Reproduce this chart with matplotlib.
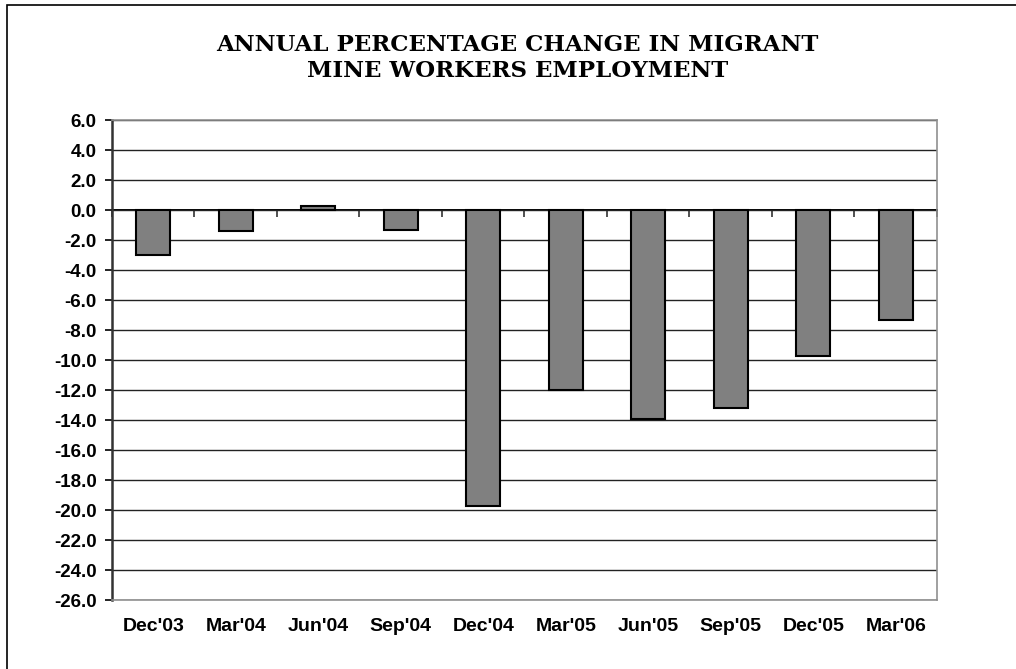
import numpy as np
import matplotlib
matplotlib.use('Agg')
import matplotlib.pyplot as plt
from matplotlib.patches import Rectangle

# data
quarters = ["Dec'03", "Mar'04", "Jun'04", "Sep'04", "Dec'04",
            "Mar'05", "Jun'05", "Sep'05", "Dec'05", "Mar'06"]
pct_change = [-3.0, -1.4, 0.3, -1.3, -19.7, -12.0, -13.9, -13.2, -9.7, -7.3]
y_ticks = np.arange(-26, 7, 2)

fig = plt.figure(figsize=(10.16, 6.69), dpi=100)
ax = fig.add_axes([0.1102, 0.1031, 0.812, 0.7175])

x = np.arange(len(quarters))
ax.bar(x, pct_change, width=0.41, color='#808080', edgecolor='black',
       linewidth=1.5, zorder=3)

ax.set_xlim(-0.5, len(quarters) - 0.5)
ax.set_ylim(-26, 6)
ax.set_yticks(y_ticks)
ax.set_yticklabels(['%.1f' % v for v in y_ticks], fontsize=13.5,
                   fontweight='bold', family='Liberation Sans')
ax.tick_params(axis='y', direction='out', length=5, width=1.2, pad=6)
ax.set_xticks(x)
ax.set_xticklabels(quarters, fontsize=14, fontweight='bold',
                   family='Liberation Sans')
ax.tick_params(axis='x', length=0, pad=13)
ax.yaxis.grid(True, color='#222222', linewidth=1.0, zorder=0)
ax.set_axisbelow(True)

for side in ['top', 'right', 'bottom']:
    ax.spines[side].set_color('#909090')
    ax.spines[side].set_linewidth(1.2)
ax.spines['left'].set_color('#333333')
ax.spines['left'].set_linewidth(1.8)

# category-boundary ticks on the zero line
zero_axis = ax.secondary_xaxis(0, transform=ax.transData)
zero_axis.set_xticks(np.arange(len(quarters) + 1) - 0.5)
zero_axis.tick_params(direction='out', length=5, width=1.2, labelbottom=False,
                      color='#333333')
zero_axis.spines['bottom'].set_color('black')
zero_axis.spines['bottom'].set_linewidth(1.4)
zero_axis.spines['bottom'].set_zorder(4)

fig.text(0.509, 0.913, 'ANNUAL PERCENTAGE CHANGE IN MIGRANT\nMINE WORKERS EMPLOYMENT',
         ha='center', va='center', fontsize=16.5, fontweight='bold',
         family='DejaVu Serif', linespacing=1.25)

# outer chart frame (only top and left edges visible)
fig.patches.append(Rectangle((7 / 1016, -0.1), 1.2, 1.1 - 5 / 669,
                             transform=fig.transFigure, fill=False,
                             edgecolor='black', linewidth=1.2))

fig.savefig('out.png', dpi=100)
